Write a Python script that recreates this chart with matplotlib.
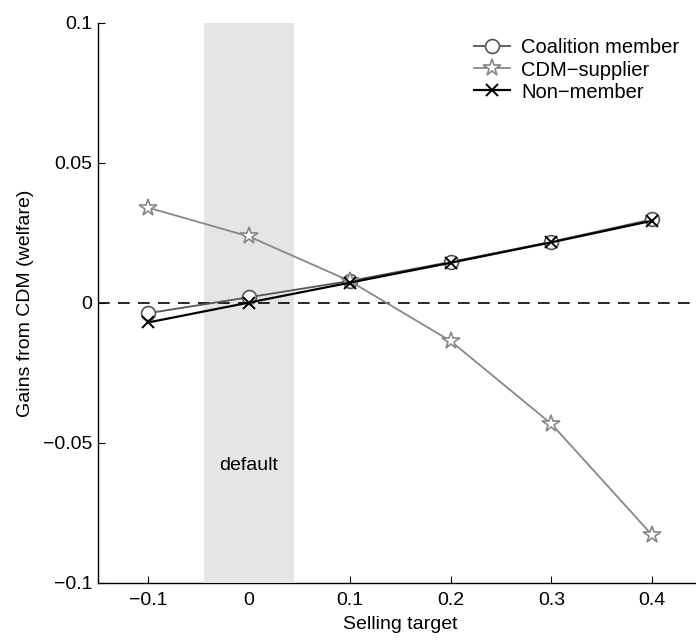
import matplotlib
matplotlib.use("Agg")
import matplotlib.pyplot as plt

plt.rcParams['font.family'] = ['Liberation Sans', 'DejaVu Sans']

selling_target = [-0.1, 0.0, 0.1, 0.2, 0.3, 0.4]
coalition_member = [-0.0037, 0.0020, 0.0078, 0.0146, 0.0218, 0.0298]
cdm_supplier = [0.0340, 0.0237, 0.0078, -0.0136, -0.0432, -0.0829]
non_member = [-0.0070, 0.0001, 0.0072, 0.0143, 0.0216, 0.0293]
default_band = (-0.045, 0.045)
x_ticks = [-0.1, 0, 0.1, 0.2, 0.3, 0.4]
x_tick_labels = ['\u22120.1', '0', '0.1', '0.2', '0.3', '0.4']
y_ticks = [-0.1, -0.05, 0, 0.05, 0.1]
y_tick_labels = ['\u22120.1', '\u22120.05', '0', '0.05', '0.1']

fig = plt.figure(figsize=(6.96, 6.40), dpi=100)
ax = fig.add_axes([0.1404, 0.0891, 0.869, 0.8754])

ax.axvspan(default_band[0], default_band[1], color='#e5e5e5', zorder=2.6, lw=0)
ax.axhline(0, color='black', lw=1.2, ls=(0, (7, 5)), zorder=3)

ax.plot(selling_target, coalition_member, color='#555555', lw=1.3, marker='o',
        ms=10, mfc='white', mec='#555555', mew=1.2, label='Coalition member', zorder=4)
ax.plot(selling_target, cdm_supplier, color='#888888', lw=1.3, marker='*',
        ms=13, mfc='white', mec='#888888', mew=1.2, label='CDM\u2212supplier', zorder=5)
ax.plot(selling_target, non_member, color='black', lw=1.6, marker='x',
        ms=8, mec='black', mew=1.4, label='Non\u2212member', zorder=6)

ax.text(0.0, -0.058, 'default', ha='center', va='center', fontsize=14, zorder=7)

ax.set_xlim(-0.15, 0.45)
ax.set_ylim(-0.1, 0.1)
ax.set_xticks(x_ticks)
ax.set_xticklabels(x_tick_labels)
ax.set_yticks(y_ticks)
ax.set_yticklabels(y_tick_labels)
ax.tick_params(direction='in', length=5, width=0.8, labelsize=14, pad=4)
ax.tick_params(axis='x', pad=6.5)
for s in ['top', 'right']:
    ax.spines[s].set_visible(False)
for s in ['left', 'bottom']:
    ax.spines[s].set_linewidth(1.0)

ax.set_xlabel('Selling target', fontsize=14, labelpad=5)
ax.set_ylabel('Gains from CDM (welfare)', fontsize=14, labelpad=6)

leg = ax.legend(loc='upper right', bbox_to_anchor=(0.985, 0.997), frameon=False,
                fontsize=14.5, handlelength=1.8, handletextpad=0.55,
                labelspacing=0.15, borderaxespad=0.3)

fig.savefig('out.png', dpi=100)
